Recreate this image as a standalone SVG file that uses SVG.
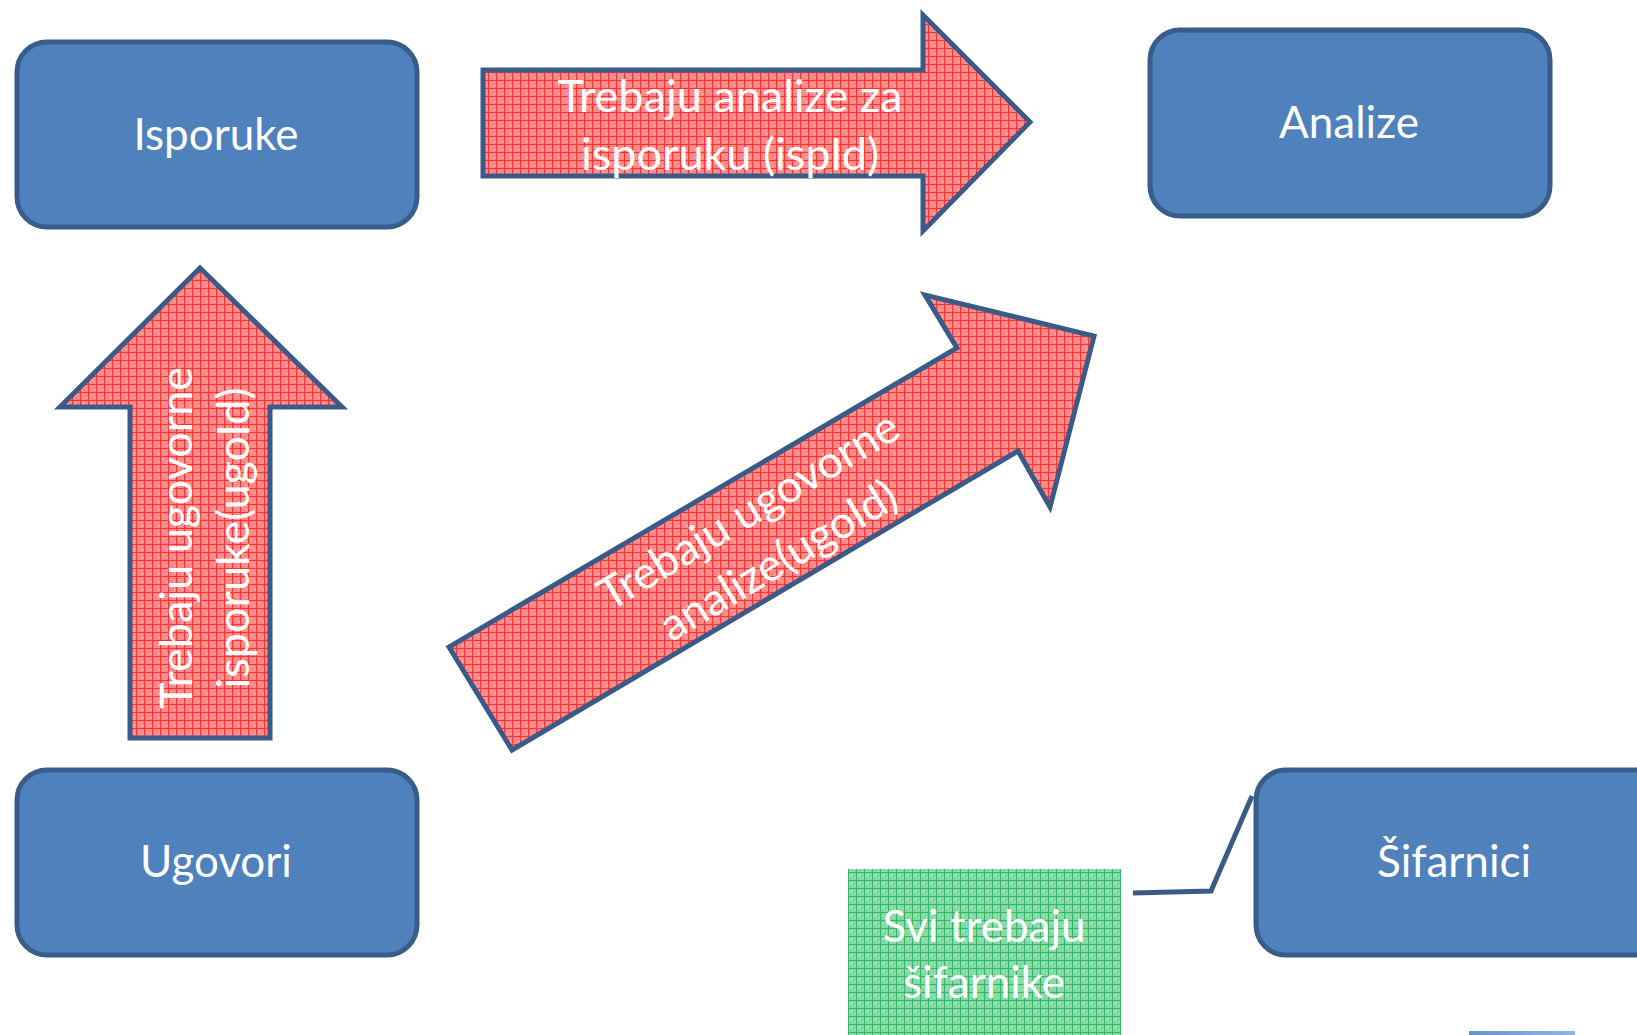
<svg xmlns="http://www.w3.org/2000/svg" width="1637" height="1035" viewBox="0 0 1637 1035">
<style>
.box{fill:#4f81bd;stroke:#385d8a;stroke-width:5}
.arrow{fill:url(#redgrid);stroke:#3b5a88;stroke-width:5;stroke-linejoin:miter}
.lbl{font-family:Lato,"Open Sans",sans-serif;fill:#ffffff;text-anchor:middle}
.big{font-size:44px}
.mid{font-size:45px}
.conn{fill:none;stroke:#3b5a88;stroke-width:5}
</style>
<defs>
<pattern id="redgrid" width="8" height="8" patternUnits="userSpaceOnUse">
<rect width="8" height="8" fill="#ff8888"/>
<rect x="3" y="3" width="1" height="1" fill="#ffd6d6"/>
<rect x="6" y="5" width="1" height="1" fill="#ffc4c4"/>
<path d="M0 0.5H8M0.5 0V8" stroke="#ff3030" stroke-width="1"/>
</pattern>
<pattern id="greengrid" width="8" height="8" patternUnits="userSpaceOnUse">
<rect width="8" height="8" fill="#82d9a4"/>
<rect x="3" y="3" width="1" height="1" fill="#c8f0d6"/>
<rect x="6" y="5" width="1" height="1" fill="#b8ead0"/>
<path d="M0 0.5H8M0.5 0V8" stroke="#34b666" stroke-width="1"/>
</pattern>
<linearGradient id="bar" x1="0" y1="0" x2="1" y2="0">
<stop offset="0" stop-color="#6a93cd"/>
<stop offset="1" stop-color="#8cb6ea"/>
</linearGradient>
</defs>

<g id="connectors">
<g id="arrow-isporuke-analize">
<polygon class="arrow" points="483,70 923,70 923,15 1030,122 923,231 923,176 483,176"/>
<text class="lbl mid"><tspan x="730" y="112">Trebaju analize za</tspan><tspan x="730" y="170">isporuku (ispId)</tspan></text>
</g>
<g id="arrow-ugovori-isporuke">
<polygon class="arrow" points="130,738 130,407 60,407 200,268 342,407 270,407 270,738"/>
<text class="lbl mid" transform="translate(200,538) rotate(-90)"><tspan x="0" y="-8">Trebaju ugovorne</tspan><tspan x="0" y="49">isporuke(ugoId)</tspan></text>
</g>
<g id="arrow-ugovori-analize">
<polygon class="arrow" points="449,647 512,750 1018,451 1050,507 1094,336 925,295 957,348"/>
<text class="lbl mid" transform="translate(763,535) rotate(-31)"><tspan x="0" y="-13">Trebaju ugovorne</tspan><tspan x="0" y="45">analize(ugoId)</tspan></text>
</g>
<polyline class="conn" points="1133,893 1211,891 1252,796"/>
</g>

<g id="node-isporuke">
<rect class="box" x="17" y="42" width="400" height="185" rx="30"/>
<text class="lbl big" x="216" y="150">Isporuke</text>
</g>
<g id="node-analize">
<rect class="box" x="1150" y="30" width="400" height="186" rx="30"/>
<text class="lbl big" x="1349" y="138">Analize</text>
</g>
<g id="node-ugovori">
<rect class="box" x="17" y="770" width="400" height="185" rx="30"/>
<text class="lbl big" x="216" y="877">Ugovori</text>
</g>
<g id="node-sifarnici">
<rect class="box" x="1256" y="770" width="420" height="185" rx="30"/>
<text class="lbl big" x="1454" y="877">Šifarnici</text>
</g>
<g id="note-sifarnici">
<rect x="848" y="869" width="273" height="170" fill="url(#greengrid)"/>
<text class="lbl big"><tspan x="984" y="942">Svi trebaju</tspan><tspan x="984" y="998">šifarnike</tspan></text>
</g>
<rect id="partial-shape" x="1469" y="1031" width="106" height="6" fill="url(#bar)"/>
</svg>
